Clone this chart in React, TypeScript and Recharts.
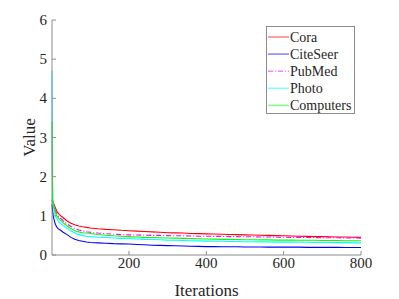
import React from 'react';
import { LineChart, Line, XAxis, YAxis, Legend } from 'recharts';

const iterations = [1, 2, 3, 4, 6, 8, 10, 13, 16, 20, 25, 30, 40, 50, 60, 70, 80, 90,
  100, 120, 140, 160, 180, 200, 220, 240, 260, 280, 300, 320, 340, 360, 380, 400, 420, 440,
  460, 480, 500, 520, 540, 560, 580, 600, 620, 640, 660, 680, 700, 720, 740, 760, 780, 800];

const cora = [1.42, 1.40, 1.38, 1.35, 1.30, 1.25, 1.20, 1.13, 1.08, 1.03, 0.99, 0.95, 0.87, 0.81, 0.77, 0.74, 0.72, 0.705,
  0.69, 0.67, 0.655, 0.645, 0.63, 0.62, 0.61, 0.60, 0.59, 0.58, 0.57, 0.565, 0.56, 0.55, 0.545, 0.54, 0.535, 0.53,
  0.525, 0.52, 0.515, 0.51, 0.505, 0.50, 0.495, 0.49, 0.485, 0.48, 0.475, 0.47, 0.47, 0.465, 0.46, 0.46, 0.455, 0.45];

const citeSeer = [1.30, 1.20, 1.10, 1.02, 0.92, 0.84, 0.78, 0.72, 0.68, 0.65, 0.62, 0.58, 0.52, 0.45, 0.40, 0.37, 0.35, 0.33,
  0.32, 0.31, 0.30, 0.29, 0.285, 0.28, 0.27, 0.26, 0.25, 0.245, 0.24, 0.235, 0.23, 0.225, 0.22, 0.215, 0.215, 0.21,
  0.21, 0.21, 0.205, 0.205, 0.205, 0.2, 0.2, 0.2, 0.2, 0.2, 0.195, 0.195, 0.195, 0.195, 0.195, 0.19, 0.19, 0.19];

const pubMed = [1.40, 1.38, 1.35, 1.31, 1.25, 1.19, 1.13, 1.06, 1.01, 0.96, 0.92, 0.87, 0.79, 0.73, 0.68, 0.64, 0.615, 0.595,
  0.58, 0.56, 0.545, 0.53, 0.52, 0.515, 0.51, 0.505, 0.50, 0.50, 0.495, 0.49, 0.49, 0.485, 0.48, 0.48, 0.475, 0.475,
  0.47, 0.47, 0.465, 0.465, 0.46, 0.46, 0.455, 0.455, 0.45, 0.45, 0.445, 0.445, 0.44, 0.44, 0.44, 0.435, 0.435, 0.43];

const photo = [4.70, 2.00, 1.35, 1.27, 1.16, 1.07, 1.00, 0.93, 0.88, 0.83, 0.79, 0.75, 0.68, 0.61, 0.56, 0.52, 0.495, 0.48,
  0.47, 0.455, 0.445, 0.435, 0.425, 0.42, 0.41, 0.40, 0.395, 0.39, 0.38, 0.375, 0.37, 0.365, 0.36, 0.355, 0.35, 0.35,
  0.345, 0.345, 0.34, 0.34, 0.335, 0.335, 0.33, 0.33, 0.33, 0.325, 0.325, 0.32, 0.32, 0.32, 0.315, 0.315, 0.31, 0.31];

const computers = [3.40, 2.20, 1.40, 1.33, 1.24, 1.16, 1.09, 1.01, 0.96, 0.91, 0.87, 0.82, 0.74, 0.67, 0.62, 0.59, 0.57, 0.56,
  0.55, 0.525, 0.505, 0.49, 0.48, 0.47, 0.46, 0.45, 0.445, 0.44, 0.435, 0.43, 0.425, 0.42, 0.415, 0.41, 0.405, 0.40,
  0.40, 0.395, 0.39, 0.39, 0.385, 0.385, 0.38, 0.38, 0.38, 0.375, 0.375, 0.375, 0.37, 0.37, 0.37, 0.365, 0.365, 0.365];

const seriesNames = ['Cora', 'CiteSeer', 'PubMed', 'Photo', 'Computers'];
const seriesValues = [cora, citeSeer, pubMed, photo, computers];
const seriesColors = ['#ff0000', '#0000ff', '#ff00ff', '#00ffff', '#00ff00'];
const seriesDash = [undefined, undefined, '5 2 1 2', undefined, undefined];

const xTicks = [200, 400, 600, 800];
const yTicks = [0, 1, 2, 3, 4, 5, 6];
const xLabel = 'Iterations';
const yLabel = 'Value';

const data = iterations.map((it, i) => {
  const row: Record<string, number> = { iter: it };
  seriesNames.forEach((n, k) => { row[n] = seriesValues[k][i]; });
  return row;
});

const FONT = 'Liberation Serif, serif';
const AXIS = '#8c8c8c';
const TEXT = '#262626';
const TL = 4;
const textStyle = { fontFamily: FONT };

const BottomTick = (props: any) => {
  const { x, y, payload } = props;
  return (
    <g>
      <line x1={x} x2={x} y1={y} y2={y - TL} stroke={AXIS} strokeWidth={1} />
      <text x={x} y={y + 13} textAnchor="middle" fontSize={15} style={textStyle} fill={TEXT}>{payload.value}</text>
    </g>
  );
};

const TopTick = (props: any) => {
  const { x, y } = props;
  return <line x1={x} x2={x} y1={y} y2={y + TL} stroke={AXIS} strokeWidth={1} />;
};

const LeftTick = (props: any) => {
  const { x, y, payload } = props;
  return (
    <g>
      <line x1={x} x2={x + TL} y1={y} y2={y} stroke={AXIS} strokeWidth={1} />
      <text x={x - 5} y={y + 5} textAnchor="end" fontSize={15} style={textStyle} fill={TEXT}>{payload.value}</text>
    </g>
  );
};

const RightTick = (props: any) => {
  const { x, y } = props;
  return <line x1={x} x2={x - TL} y1={y} y2={y} stroke={AXIS} strokeWidth={1} />;
};

const LegendBox = () => (
  <svg width={90} height={89} style={{ display: 'block' }}>
    <rect x={0.5} y={0.5} width={88} height={87} fill="#ffffff" stroke={AXIS} strokeWidth={1} />
    {seriesNames.map((n, i) => {
      const cy = 11 + i * 17.1;
      return (
        <g key={n}>
          <line x1={2} x2={23} y1={cy} y2={cy} stroke={seriesColors[i]} strokeWidth={1.5}
            strokeOpacity={0.5} strokeDasharray={seriesDash[i]} />
          <text x={24} y={cy + 5} fontSize={14} style={textStyle} fill={TEXT}>{n}</text>
        </g>
      );
    })}
  </svg>
);

export default function App() {
  return (
    <div style={{ position: 'absolute', left: 0, top: 0, width: 399, height: 299, background: '#ffffff', fontFamily: FONT }}>
      <LineChart width={399} height={299} data={data} margin={{ top: 20, right: 38, bottom: 0, left: 0 }}>
        <XAxis dataKey="iter" type="number" domain={[1, 800]} ticks={xTicks} interval={0}
          height={44} tickSize={0} tickMargin={0} tickLine={false} stroke={AXIS}
          tick={<BottomTick />}
          label={{ value: xLabel, position: 'insideBottom', offset: 3, fontSize: 17, fill: TEXT, style: { fontFamily: FONT } }} />
        <XAxis xAxisId="top" dataKey="iter" type="number" domain={[1, 800]} ticks={xTicks} interval={0}
          orientation="top" height={0} tickSize={0} tickMargin={0} tickLine={false} stroke={AXIS}
          tick={<TopTick />} />
        <YAxis type="number" domain={[0, 6]} ticks={yTicks} interval={0} width={52}
          tickSize={0} tickMargin={0} tickLine={false} stroke={AXIS} tick={<LeftTick />}
          label={{ value: yLabel, angle: -90, position: 'insideLeft', offset: 29, fontSize: 17, fill: TEXT, style: { textAnchor: 'middle', fontFamily: FONT } }} />
        <YAxis yAxisId="right" orientation="right" type="number" domain={[0, 6]} ticks={yTicks} interval={0}
          width={0} tickSize={0} tickMargin={0} tickLine={false} stroke={AXIS} tick={<RightTick />} />
        {seriesNames.map((n, i) => (
          <Line key={n} dataKey={n} type="linear" stroke={seriesColors[i]} strokeWidth={1.1}
            strokeDasharray={seriesDash[i]} dot={false} activeDot={false} isAnimationActive={false} />
        ))}
        <Legend layout="vertical" align="center" verticalAlign="middle"
          wrapperStyle={{ left: 266, top: 26, width: 90, height: 89 }} content={<LegendBox />} />
      </LineChart>
    </div>
  );
}
